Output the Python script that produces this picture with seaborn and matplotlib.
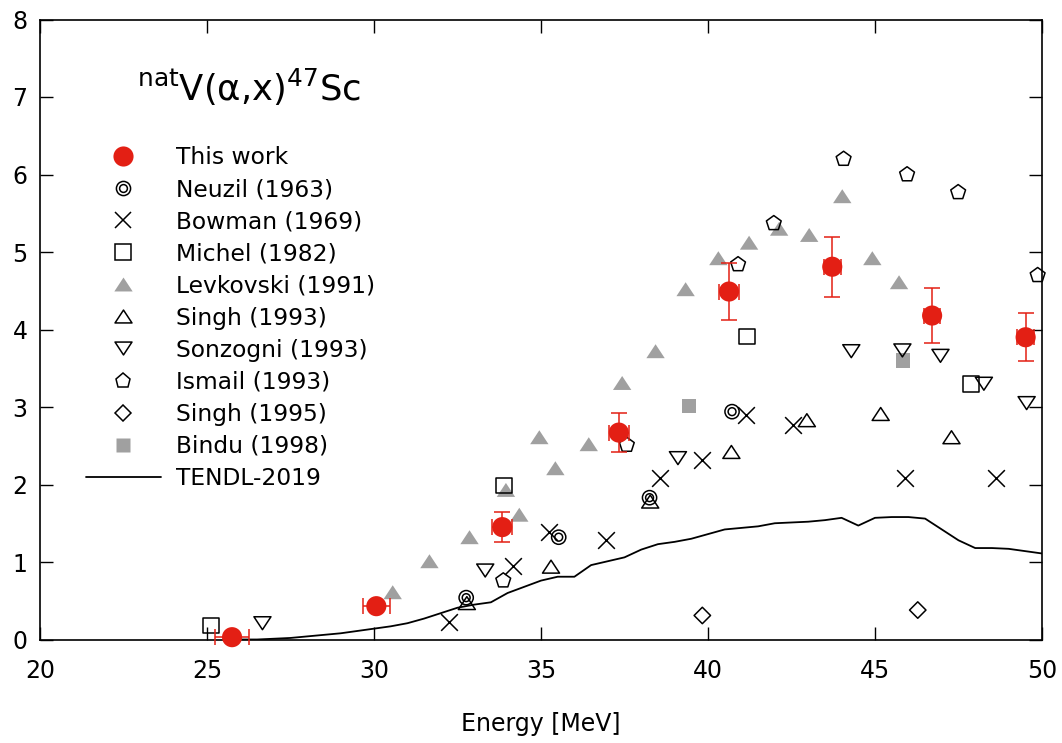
import numpy as np
import pandas as pd
import matplotlib
matplotlib.use("Agg")
import matplotlib.pyplot as plt
from matplotlib.lines import Line2D
from matplotlib.legend_handler import HandlerTuple
from matplotlib.path import Path
import seaborn as sns

# ---------------- data ----------------
this_E = [25.75, 30.07, 33.84, 37.33, 40.63, 43.72, 46.71, 49.51]
this_s = [0.03, 0.43, 1.45, 2.67, 4.49, 4.81, 4.18, 3.90]
this_dE = [0.5, 0.4, 0.3, 0.3, 0.3, 0.25, 0.25, 0.25]
this_ds = [0.02, 0.05, 0.19, 0.25, 0.37, 0.39, 0.35, 0.31]

neuzil_E = [32.76, 35.53, 38.25, 40.72]
neuzil_s = [0.54, 1.32, 1.83, 2.94]

bowman_E = [32.26, 34.15, 35.25, 36.95, 38.55, 39.83, 41.13, 42.53, 45.91, 48.62]
bowman_s = [0.23, 0.95, 1.39, 1.29, 2.09, 2.31, 2.90, 2.77, 2.09, 2.09]

michel_E = [25.12, 33.90, 41.17, 47.87]
michel_s = [0.18, 1.99, 3.91, 3.30]

levk_E = [30.56, 31.66, 32.86, 33.95, 34.35, 34.95, 35.43, 36.43, 37.43, 38.43,
          39.33, 40.31, 41.23, 42.13, 43.03, 44.02, 44.92, 45.72]
levk_s = [0.61, 1.01, 1.32, 1.93, 1.61, 2.61, 2.21, 2.52, 3.31, 3.72,
          4.52, 4.92, 5.12, 5.30, 5.22, 5.72, 4.92, 4.61]

singh93_E = [32.78, 35.30, 38.27, 40.70, 42.96, 45.17, 47.29]
singh93_s = [0.47, 0.94, 1.78, 2.42, 2.83, 2.91, 2.61]

sonz_E = [26.66, 33.33, 39.10, 44.29, 45.82, 46.96, 48.26, 49.54]
sonz_s = [0.21, 0.89, 2.34, 3.72, 3.73, 3.66, 3.30, 3.05]

ismail_E = [33.87, 37.57, 40.90, 41.97, 44.06, 45.96, 47.49, 49.87]
ismail_s = [0.76, 2.51, 4.84, 5.37, 6.20, 6.00, 5.77, 4.70]

singh95_E = [39.83, 46.28]
singh95_s = [0.31, 0.38]

bindu_E = [39.43, 45.84]
bindu_s = [3.01, 3.60]

tendl_E = [26.0, 26.5, 27.0, 27.5, 28.0, 28.5, 29.0, 29.5, 30.0, 30.5, 31.0, 31.5,
           32.0, 32.5, 33.0, 33.5, 34.0, 34.5, 35.0, 35.5, 36.0, 36.5, 37.0, 37.5,
           38.0, 38.5, 39.0, 39.5, 40.0, 40.5, 41.0, 41.5, 42.0, 42.5, 43.0, 43.5,
           44.0, 44.5, 45.0, 45.5, 46.0, 46.5, 47.0, 47.5, 48.0, 48.5, 49.0, 49.5, 50.0]
tendl_s = [0.0, 0.0, 0.01, 0.02, 0.04, 0.06, 0.08, 0.11, 0.14, 0.17, 0.21, 0.27,
           0.34, 0.41, 0.45, 0.48, 0.60, 0.68, 0.76, 0.81, 0.81, 0.96, 1.01, 1.06,
           1.16, 1.23, 1.26, 1.30, 1.36, 1.42, 1.44, 1.46, 1.50, 1.51, 1.52, 1.54,
           1.57, 1.47, 1.57, 1.58, 1.58, 1.56, 1.42, 1.28, 1.18, 1.18, 1.17, 1.14, 1.11]

labels = ["This work", "Neuzil (1963)", "Bowman (1969)", "Michel (1982)",
          "Levkovski (1991)", "Singh (1993)", "Sonzogni (1993)", "Ismail (1993)",
          "Singh (1995)", "Bindu (1998)", "TENDL-2019"]

x_ticks = [20, 25, 30, 35, 40, 45, 50]
y_ticks = [0, 1, 2, 3, 4, 5, 6, 7, 8]

# ---------------- style ----------------
sns.set_style("ticks")
plt.rcParams["font.family"] = ["DejaVu Sans"]
plt.rcParams["mathtext.default"] = "regular"
plt.rcParams["text.color"] = "black"
plt.rcParams["axes.labelcolor"] = "black"
plt.rcParams["xtick.color"] = "black"
plt.rcParams["ytick.color"] = "black"

RED = "#e31f14"
GRAY = "#a0a0a0"
K = "black"

codes = [Path.MOVETO, Path.LINETO, Path.LINETO, Path.CLOSEPOLY]
tri_up = Path([(-1, -0.76), (1, -0.76), (0, 0.76), (-1, -0.76)], codes)
tri_dn = Path([(-1, 0.76), (1, 0.76), (0, -0.76), (-1, 0.76)], codes)

fig = plt.figure(figsize=(10.62, 7.43), dpi=100)
ax = fig.add_axes([40 / 1062, 1 - 639.5 / 743, 1002 / 1062, (639.5 - 19.5) / 743])

# TENDL line
sns.lineplot(x=tendl_E, y=tendl_s, color=K, linewidth=1.3, ax=ax, legend=False, zorder=2)

common = dict(ax=ax, legend=False, clip_on=False, zorder=3)
sns.scatterplot(x=levk_E, y=levk_s, marker=tri_up, s=175, color=GRAY, edgecolor="none", linewidth=0, **common)
sns.scatterplot(x=bindu_E, y=bindu_s, marker="s", s=105, color=GRAY, edgecolor="none", linewidth=0, **common)
sns.scatterplot(x=neuzil_E, y=neuzil_s, marker="o", s=105, color=K, facecolor="none", edgecolor=K, linewidth=1.1, **common)
sns.scatterplot(x=neuzil_E, y=neuzil_s, marker="o", s=32, color=K, facecolor="none", edgecolor=K, linewidth=1.1, **common)
sns.scatterplot(x=bowman_E, y=bowman_s, marker="x", s=145, color=K, linewidth=1.1, **common)
sns.scatterplot(x=michel_E, y=michel_s, marker="s", s=125, color=K, facecolor="none", edgecolor=K, linewidth=1.1, **common)
sns.scatterplot(x=singh93_E, y=singh93_s, marker=tri_up, s=150, color=K, facecolor="none", edgecolor=K, linewidth=1.1, **common)
sns.scatterplot(x=sonz_E, y=sonz_s, marker=tri_dn, s=150, color=K, facecolor="none", edgecolor=K, linewidth=1.1, **common)
sns.scatterplot(x=ismail_E, y=ismail_s, marker="p", s=125, color=K, facecolor="none", edgecolor=K, linewidth=1.1, **common)
sns.scatterplot(x=singh95_E, y=singh95_s, marker="D", s=70, color=K, facecolor="none", edgecolor=K, linewidth=1.1, **common)

# This work with error bars
ax.errorbar(this_E, this_s, xerr=this_dE, yerr=this_ds, fmt="none", ecolor=RED,
            elinewidth=1.1, capsize=6, capthick=1.1, zorder=4, clip_on=False)
sns.scatterplot(x=this_E, y=this_s, marker="o", s=210, color=RED, edgecolor="none",
                linewidth=0, ax=ax, legend=False, clip_on=False, zorder=5)

# axes
ax.set_xlim(20, 50)
ax.set_ylim(0, 8)
ax.set_xticks(x_ticks)
ax.set_yticks(y_ticks)
ax.set_xticklabels([str(v) for v in x_ticks])
ax.set_yticklabels([str(v) for v in y_ticks])
for sp in ax.spines.values():
    sp.set_visible(True)
    sp.set_linewidth(1.2)
    sp.set_color(K)
ax.tick_params(axis="both", which="major", direction="in", length=9.5, width=1.0,
               top=True, right=True, labelsize=17, colors=K, labelcolor=K)
ax.tick_params(axis="x", pad=14)
ax.tick_params(axis="y", pad=9)
ax.set_xlabel("Energy [MeV]", fontsize=17, labelpad=21, color=K)
ax.set_ylabel("")

# title
ax.text(137 / 1062, 1 - 101 / 743, r"$^{nat}$V(α,x)$^{47}$Sc", transform=fig.transFigure,
        fontsize=25.5, ha="left", va="baseline", color=K)

# legend
handles = [
    Line2D([], [], ls="none", marker="o", ms=14.5, mfc=RED, mec="none"),
    (Line2D([], [], ls="none", marker="o", ms=10.2, mfc="none", mec=K, mew=1.1),
     Line2D([], [], ls="none", marker="o", ms=5.6, mfc="none", mec=K, mew=1.1)),
    Line2D([], [], ls="none", marker="x", ms=12, color=K, mew=1.1),
    Line2D([], [], ls="none", marker="s", ms=11.2, mfc="none", mec=K, mew=1.1),
    Line2D([], [], ls="none", marker=tri_up, ms=13.2, mfc=GRAY, mec="none"),
    Line2D([], [], ls="none", marker=tri_up, ms=12.2, mfc="none", mec=K, mew=1.1),
    Line2D([], [], ls="none", marker=tri_dn, ms=12.2, mfc="none", mec=K, mew=1.1),
    Line2D([], [], ls="none", marker="p", ms=11.2, mfc="none", mec=K, mew=1.1),
    Line2D([], [], ls="none", marker="D", ms=8.4, mfc="none", mec=K, mew=1.1),
    Line2D([], [], ls="none", marker="s", ms=10.2, mfc=GRAY, mec="none"),
    Line2D([], [], color=K, lw=1.3),
]
leg = ax.legend(handles, labels, loc="upper left",
                bbox_to_anchor=(86 / 1062, 1 - 146 / 743), bbox_transform=fig.transFigure,
                frameon=False, fontsize=16.8, handlelength=3.2, handletextpad=0.65,
                labelspacing=0.39, borderpad=0, borderaxespad=0,
                handler_map={tuple: HandlerTuple(ndivide=1)})
for t in leg.get_texts():
    t.set_color(K)

fig.savefig("out.png", dpi=100)
